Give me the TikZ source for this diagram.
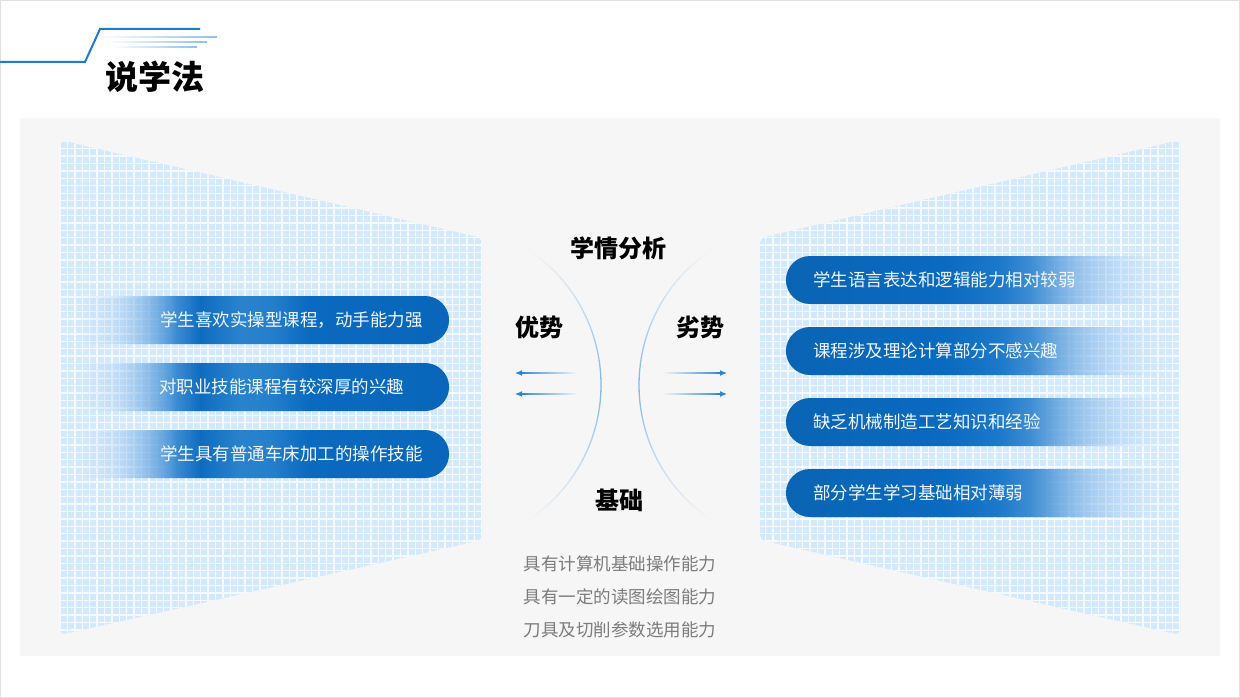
\documentclass[tikz,border=0pt]{standalone}
\usepackage{fontspec}
\setmainfont{Noto Sans CJK SC}
\usetikzlibrary{fadings,calc,arrows.meta}
\definecolor{panel}{HTML}{F6F6F6}
\definecolor{hdr}{HTML}{1E7BD2}
\definecolor{hdrlight}{HTML}{8EC0EE}
\definecolor{gridfill}{HTML}{D3E9FF}
\definecolor{gridline}{HTML}{F6FAFF}
\definecolor{arcblue}{HTML}{7FB6E8}
\definecolor{arrblue}{HTML}{2A86D6}
\definecolor{graytext}{HTML}{7C7C7C}
\definecolor{pilltext}{HTML}{F2F7FF}
\definecolor{pLa}{HTML}{C4DCF4}
\definecolor{pLb}{HTML}{A8CBEE}
\definecolor{pLc}{HTML}{4A95D8}
\definecolor{pLd}{HTML}{0E6CC0}
\definecolor{pLe}{HTML}{2A82CC}
\definecolor{pLf}{HTML}{2580CB}
\definecolor{pLg}{HTML}{0A6AC0}
\definecolor{pLh}{HTML}{0966BA}
\definecolor{pRa}{HTML}{0A64B4}
\definecolor{pRb}{HTML}{0A6AC0}
\definecolor{pRc}{HTML}{1C78C9}
\definecolor{pRd}{HTML}{4F97D8}
\definecolor{pRe}{HTML}{8DBDE9}
\definecolor{pRf}{HTML}{B8D7F3}
\definecolor{pRg}{HTML}{CDE4F8}
\pgfdeclarehorizontalshading{pillLshade}{100bp}{color(0bp)=(pLa); color(25bp)=(pLa); color(32bp)=(pLb); color(39bp)=(pLc); color(43bp)=(pLd); color(48bp)=(pLe); color(52bp)=(pLf); color(57bp)=(pLg); color(75bp)=(pLh); color(100bp)=(pLh)}
\pgfdeclarehorizontalshading{pillRshade}{100bp}{color(0bp)=(pRa); color(25bp)=(pRa); color(45bp)=(pRb); color(52bp)=(pRc); color(58bp)=(pRd); color(64bp)=(pRe); color(70bp)=(pRf); color(75bp)=(pRg); color(100bp)=(pRg)}
\pgfdeclarehorizontalshading{maskLshade}{100bp}{color(0bp)=(pgftransparent!100); color(27bp)=(pgftransparent!100); color(33bp)=(pgftransparent!55); color(40bp)=(pgftransparent!0); color(100bp)=(pgftransparent!0)}
\pgfdeclarefading{pillfadeL}{\pgfuseshading{maskLshade}}
\pgfdeclarehorizontalshading{maskRshade}{100bp}{color(0bp)=(pgftransparent!0); color(56bp)=(pgftransparent!0); color(66bp)=(pgftransparent!50); color(74bp)=(pgftransparent!100); color(100bp)=(pgftransparent!100)}
\pgfdeclarefading{pillfadeR}{\pgfuseshading{maskRshade}}
\tikzfading[name=fadeTB, top color=transparent!100, bottom color=transparent!100, middle color=transparent!0]
\tikzset{
  pilltxt/.style={anchor=west, inner sep=0pt, text=pilltext, font=\fontsize{17.5}{20}\selectfont},
  headtxt/.style={inner sep=0pt, text=black, font=\fontsize{24}{28}\selectfont\bfseries},
  basetxt/.style={inner sep=0pt, text=graytext, font=\fontsize{17.5}{20}\selectfont},
  gline/.style={gridline, line width=1.4pt},
  arcline/.style={arcblue, line width=1.3pt, path fading=fadeTB},
  arrline/.style={arrblue, line width=1.2pt, -{Latex[length=7pt,width=6pt]}},
}
\begin{document}
\begin{tikzpicture}[x=1pt,y=-1pt]
\useasboundingbox (0,0) rectangle (1240,698);
\fill[white] (0,0) rectangle (1240,698);
\draw[black!12, line width=1pt] (0.5,0.5) rectangle (1239.5,697.5);
% header
\draw[hdr, line width=2pt] (0,62) -- (85,62) -- (100,29) -- (200,29);
\shade[left color=white, right color=hdrlight] (100,36.4) rectangle (217,37.6);
\shade[left color=white, right color=hdrlight] (107,41.4) rectangle (207,42.6);
\shade[left color=white, right color=hdrlight] (112,46.4) rectangle (197,47.6);
\node[inner sep=0pt, font=\fontsize{33}{36}\selectfont\bfseries] (title) at (155,77) {说学法};
% panel
\fill[panel] (20,118) rectangle (1220,656);
% left grid
\begin{scope}
\clip[rounded corners=6pt] (60,140) -- (482,238) -- (482,540) -- (60,635) -- cycle;
\fill[gridfill] (50,130) rectangle (490,650);
\foreach \i in {0,...,57} \draw[gline] ({60+7.4*\i},130) -- ++(0,520);
\foreach \j in {0,...,70} \draw[gline] (50,{134+7.4*\j}) -- ++(440,0);
\end{scope}
% right grid
\begin{scope}
\clip[rounded corners=6pt] (760,238) -- (1180,140) -- (1180,635) -- (760,540) -- cycle;
\fill[gridfill] (750,130) rectangle (1190,650);
\foreach \i in {0,...,57} \draw[gline] ({1180-7.4*\i},130) -- ++(0,520);
\foreach \j in {0,...,70} \draw[gline] (750,{134+7.4*\j}) -- ++(440,0);
\end{scope}
% left pills
\foreach \yc in {320,387,454}
  \shade[shading=pillLshade, path fading=pillfadeL, rounded corners=24pt] (60,\yc-24) rectangle (449,\yc+24);
\node[pilltxt] (l1) at (160,320) {学生喜欢实操型课程，动手能力强};
\node[pilltxt] (l2) at (159,387) {对职业技能课程有较深厚的兴趣};
\node[pilltxt] (l3) at (160,454) {学生具有普通车床加工的操作技能};
% right pills
\foreach \yc in {280,351,422,493}
  \shade[shading=pillRshade, path fading=pillfadeR, rounded corners=24pt] (786,\yc-24) rectangle (1180,\yc+24);
\node[pilltxt] (r1) at (813,280) {学生语言表达和逻辑能力相对较弱};
\node[pilltxt] (r2) at (813,351) {课程涉及理论计算部分不感兴趣};
\node[pilltxt] (r3) at (813,422) {缺乏机械制造工艺知识和经验};
\node[pilltxt] (r4) at (813,493) {部分学生学习基础相对薄弱};
% arcs
\draw[arcline] plot[domain=-56:56, samples=80, smooth] ({439+162*cos(\x)},{385+162*sin(\x)});
\draw[arcline] plot[domain=-56:56, samples=80, smooth] ({801-162*cos(\x)},{385+162*sin(\x)});
% headings
\node[headtxt] (xq) at (618,248) {学情分析};
\node[headtxt] (ys) at (539,327) {优势};
\node[headtxt] (ls) at (700,327) {劣势};
\node[headtxt] (jc) at (619,500) {基础};
% arrows
\coordinate (la1t) at (578,373); \coordinate (la1h) at (515,373);
\coordinate (la2t) at (578,394); \coordinate (la2h) at (515,394);
\coordinate (ra1t) at (662,373); \coordinate (ra1h) at (727,373);
\coordinate (ra2t) at (662,394); \coordinate (ra2h) at (727,394);
\foreach \a in {la1,la2}{
  \shade[left color=arrblue, right color=panel] ($(\a h)+(4,-0.6)$) rectangle ($(\a t)+(0,0.6)$);
  \draw[arrline] ($(\a h)+(10,0)$) -- (\a h);
}
\foreach \a in {ra1,ra2}{
  \shade[left color=panel, right color=arrblue] ($(\a t)+(0,-0.6)$) rectangle ($(\a h)+(-4,0.6)$);
  \draw[arrline] ($(\a h)+(-10,0)$) -- (\a h);
}
% base text
\node[basetxt] (b1) at (620,564) {具有计算机基础操作能力};
\node[basetxt] (b2) at (620,597) {具有一定的读图绘图能力};
\node[basetxt] (b3) at (620,630) {刀具及切削参数选用能力};
\end{tikzpicture}
\end{document}
